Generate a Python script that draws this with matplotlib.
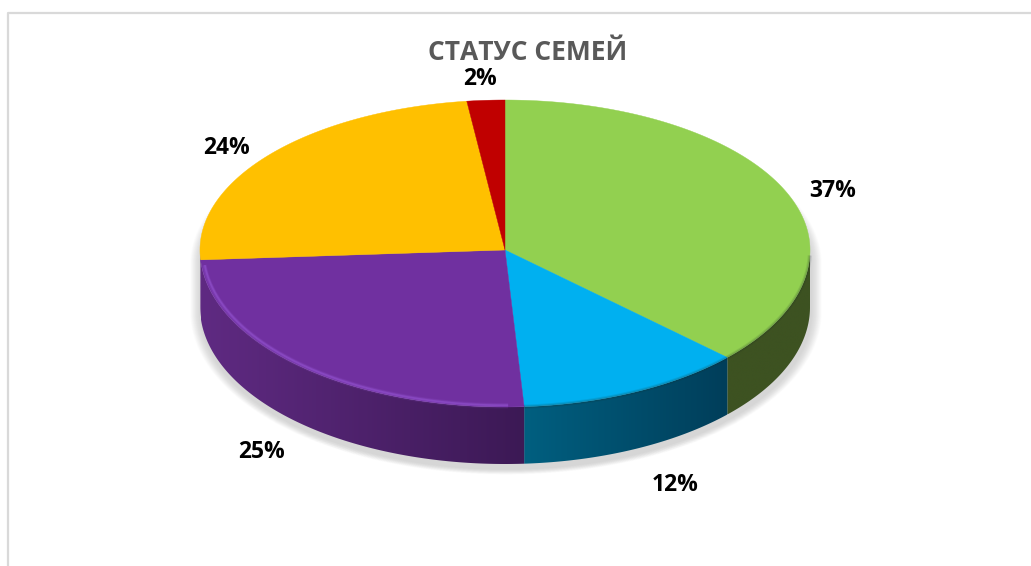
import numpy as np
import matplotlib
matplotlib.use('Agg')
import matplotlib.pyplot as plt
from matplotlib.patches import Polygon

title = 'СТАТУС СЕМЕЙ'
shares = [37, 12, 25, 24, 2]
labels = ['37%', '12%', '25%', '24%', '2%']
label_x = [833, 675, 262, 227, 480]
label_y = [191, 485, 452, 148, 79]
top_colors = ['#92D050', '#00B0F0', '#7030A0', '#FFC000', '#C00000']
# wall colour at the left and the right end of each slice
wall_left = [(61, 82, 33), (0, 95, 128), (95, 42, 130), (95, 42, 130), (120, 0, 0)]
wall_right = [(61, 82, 33), (0, 62, 90), (60, 25, 85), (95, 42, 130), (120, 0, 0)]

cx, cy = 505, 250
rx = 305
ry_up, ry_down = 150, 157
depth = 57


def rim(theta, scale=1.0):
    # theta in degrees, clockwise from 12 o'clock
    t = np.radians(theta)
    c = np.cos(t)
    ry = np.where(c > 0, ry_up, ry_down)
    return cx + scale * rx * np.sin(t), cy - scale * ry * c


fig = plt.figure(figsize=(10.31, 5.66), dpi=100)
ax = fig.add_axes([0, 0, 1, 1])

# chart frame, only left and top show
ax.plot([7.5, 7.5, 1031], [566, 12.5, 12.5], color='#D9D9D9', lw=1.6, zorder=1)

# soft shadow round the disc
th = np.linspace(0, 360, 361)
for k in range(16):
    sx, sy = rim(th, 1.0 + 0.0022 * (16 - k))
    low = sy + np.where(np.cos(np.radians(th)) < 0, depth + 5, 14)
    ax.add_patch(Polygon(np.column_stack([sx + 1, low]), closed=True, fc='#808080',
                         ec='none', alpha=0.018, zorder=2))

edges = np.concatenate([[0], np.cumsum(shares)]) * 3.6

# side wall, only the front half can be seen
for i in range(len(shares)):
    a = max(edges[i], 90)
    b = min(edges[i + 1], 270)
    if b <= a:
        continue
    t = np.linspace(a, b, 200)
    x, y = rim(t)
    pts = np.vstack([np.column_stack([x, y]), np.column_stack([x[::-1], y[::-1] + depth])])
    grad = np.linspace(np.array(wall_left[i]), np.array(wall_right[i]), 256)[None, :, :] / 255
    im = ax.imshow(grad, extent=[x.min(), x.max(), y.max() + depth, y.min()],
                   aspect='auto', interpolation='bilinear', zorder=3)
    im.set_clip_path(Polygon(pts, closed=True, transform=ax.transData))

ax.set_xlim(0, 1031)
ax.set_ylim(566, 0)
ax.axis('off')

# top faces
for i in range(len(shares)):
    t = np.linspace(edges[i], edges[i + 1], 200)
    x, y = rim(t)
    pts = np.vstack([[cx, cy], np.column_stack([x, y])])
    ax.add_patch(Polygon(pts, closed=True, fc=top_colors[i], ec=top_colors[i], lw=0.3, zorder=4))

# lit bevel on the purple rim
t = np.linspace(edges[2] + 3, edges[3] - 2, 200)
for lw, alpha, scale in [(4, 0.10, 0.992), (2.5, 0.18, 0.99), (1.2, 0.35, 0.989)]:
    x, y = rim(t, scale)
    ax.plot(x, y, color='#A060E0', lw=lw, alpha=alpha, zorder=5, solid_capstyle='butt')

# dark blur along the front edge of the green and blue tops
t = np.linspace(92, edges[2], 200)
for lw, alpha in [(3, 0.10), (1.5, 0.15)]:
    x, y = rim(t)
    ax.plot(x, y, color='#1A2A20', lw=lw, alpha=alpha, zorder=5, solid_capstyle='butt')

ax.text(528, 53, title, fontsize=19, fontweight='bold', family='Open Sans', color='#595959',
        ha='center', va='center', zorder=6)
for s, lx, ly in zip(labels, label_x, label_y):
    ax.text(lx, ly, s, fontsize=16.5, fontweight='bold', family='Open Sans', color='black',
            ha='center', va='center', zorder=6)

fig.savefig('out.png', dpi=100)
